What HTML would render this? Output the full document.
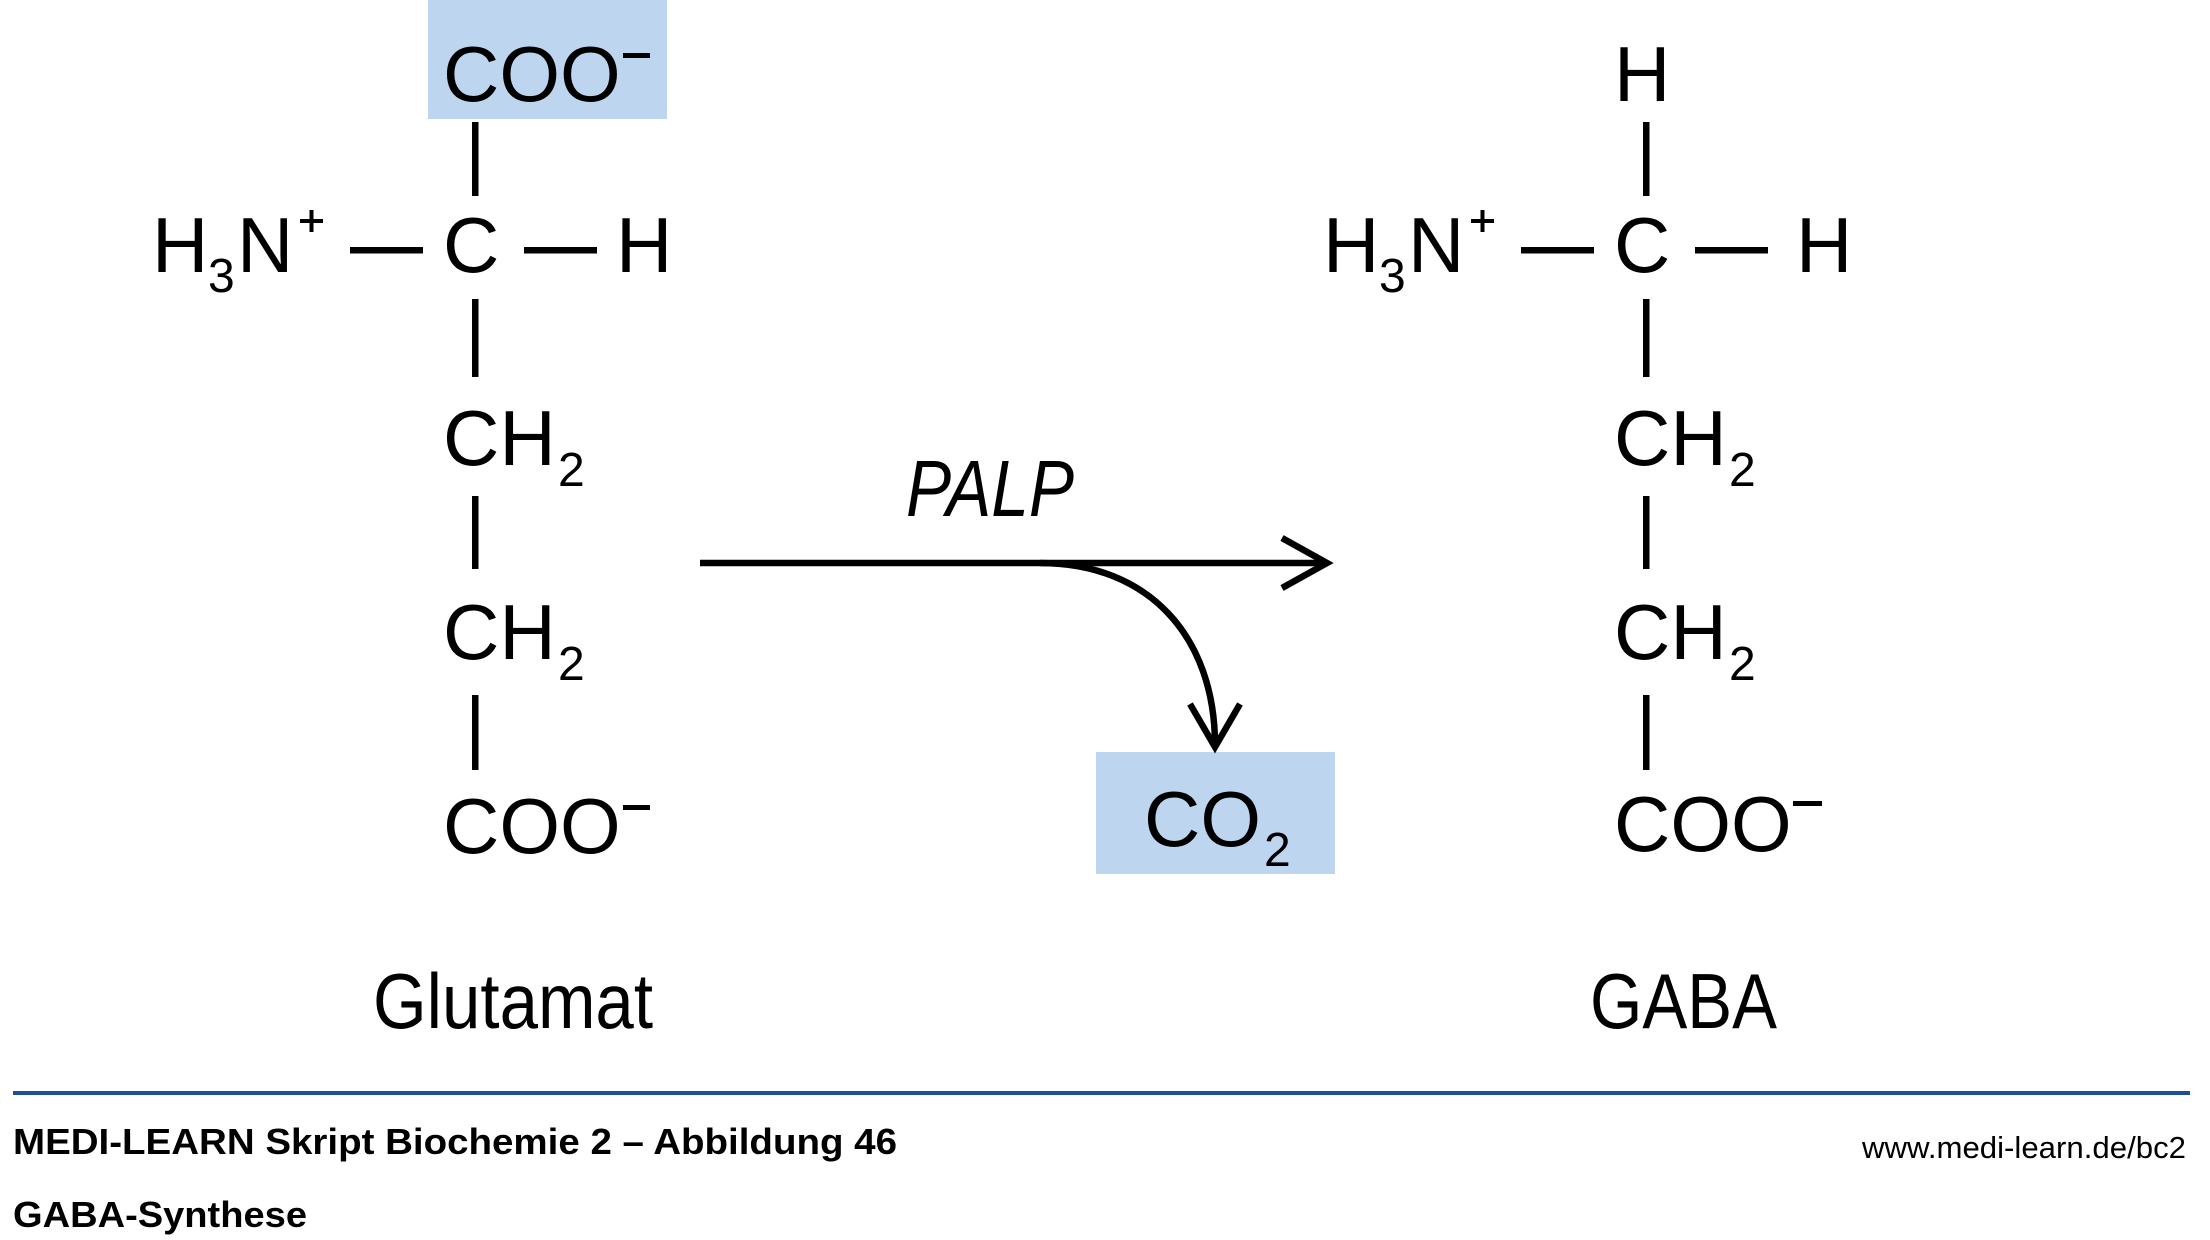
<!DOCTYPE html>
<html>
<head>
<meta charset="utf-8">
<style>
html,body{margin:0;padding:0;background:#fff;}
svg{display:block;}
text{font-family:"Liberation Sans",Arial,sans-serif;fill:#000;}
</style>
</head>
<body>
<svg width="2210" height="1240" viewBox="0 0 2210 1240" xmlns="http://www.w3.org/2000/svg">
<rect x="0" y="0" width="2210" height="1240" fill="#fff"/>

<!-- blue boxes -->
<rect x="428" y="0" width="239" height="119" fill="#bdd5ef"/>
<rect x="1096" y="752" width="239" height="122" fill="#bdd5ef"/>

<!-- ============ LEFT MOLECULE (Glutamat) ============ -->
<g font-size="78">
  <text x="443" y="101">COO</text>
  <rect x="623" y="53" width="27" height="5"/>
  <rect x="472" y="122" width="6.5" height="74"/>

  <text x="152" y="272">H</text>
  <text x="208" y="292" font-size="48">3</text>
  <text x="237" y="272">N</text>
  <rect x="300" y="219" width="23" height="4"/>
  <rect x="309.5" y="210" width="4" height="22"/>
  <rect x="350" y="247" width="73" height="6.5"/>
  <text x="443" y="272">C</text>
  <rect x="524" y="247" width="73" height="6.5"/>
  <text x="616" y="272">H</text>

  <rect x="472" y="299" width="6.5" height="78"/>
  <text x="443" y="465">CH</text>
  <text x="558" y="486" font-size="48">2</text>

  <rect x="472" y="496" width="6.5" height="73"/>
  <text x="443" y="659">CH</text>
  <text x="558" y="680" font-size="48">2</text>

  <rect x="472" y="695" width="6.5" height="75"/>
  <text x="443" y="853">COO</text>
  <rect x="623" y="805" width="27" height="5"/>
</g>
<text x="373" y="1028" font-size="78" textLength="280" lengthAdjust="spacingAndGlyphs">Glutamat</text>

<!-- ============ RIGHT MOLECULE (GABA) ============ -->
<g font-size="78">
  <text x="1614" y="101">H</text>
  <rect x="1643" y="122" width="6.5" height="74"/>

  <text x="1323" y="272">H</text>
  <text x="1379" y="292" font-size="48">3</text>
  <text x="1408" y="272">N</text>
  <rect x="1471" y="219" width="23" height="4"/>
  <rect x="1480.5" y="210" width="4" height="22"/>
  <rect x="1521" y="247" width="73" height="6.5"/>
  <text x="1614" y="272">C</text>
  <rect x="1695" y="247" width="73" height="6.5"/>
  <text x="1796" y="272">H</text>

  <rect x="1643" y="299" width="6.5" height="78"/>
  <text x="1614" y="465">CH</text>
  <text x="1729" y="486" font-size="48">2</text>

  <rect x="1643" y="496" width="6.5" height="73"/>
  <text x="1614" y="659">CH</text>
  <text x="1729" y="680" font-size="48">2</text>

  <rect x="1643" y="695" width="6.5" height="75"/>
  <text x="1614" y="851">COO</text>
  <rect x="1793" y="801" width="29" height="5"/>
</g>
<text x="1590" y="1028" font-size="78" textLength="187" lengthAdjust="spacingAndGlyphs">GABA</text>

<!-- ============ REACTION ARROW ============ -->
<text x="906" y="516" font-size="80" font-style="italic" textLength="168" lengthAdjust="spacingAndGlyphs">PALP</text>
<line x1="700" y1="563" x2="1326" y2="563" stroke="#000" stroke-width="6.5"/>
<polyline points="1282,538 1327,563 1282,588" fill="none" stroke="#000" stroke-width="6.5" stroke-linejoin="miter"/>
<path d="M1040,563 C1150,563 1215,638 1215,745" fill="none" stroke="#000" stroke-width="6.5"/>
<polyline points="1190,704 1215,747 1240,704" fill="none" stroke="#000" stroke-width="6.5" stroke-linejoin="miter"/>

<g font-size="78">
  <text x="1144" y="846">CO</text>
  <text x="1264" y="866" font-size="48">2</text>
</g>

<!-- ============ FOOTER ============ -->
<rect x="13" y="1091" width="2177" height="4" fill="#1c4f95"/>
<text x="13" y="1154" font-size="36" font-weight="bold" textLength="884" lengthAdjust="spacingAndGlyphs">MEDI-LEARN Skript Biochemie 2 – Abbildung 46</text>
<text x="13" y="1227" font-size="36" font-weight="bold" textLength="294" lengthAdjust="spacingAndGlyphs">GABA-Synthese</text>
<text x="1862" y="1158" font-size="31" textLength="324" lengthAdjust="spacingAndGlyphs">www.medi-learn.de/bc2</text>
</svg>
</body>
</html>
